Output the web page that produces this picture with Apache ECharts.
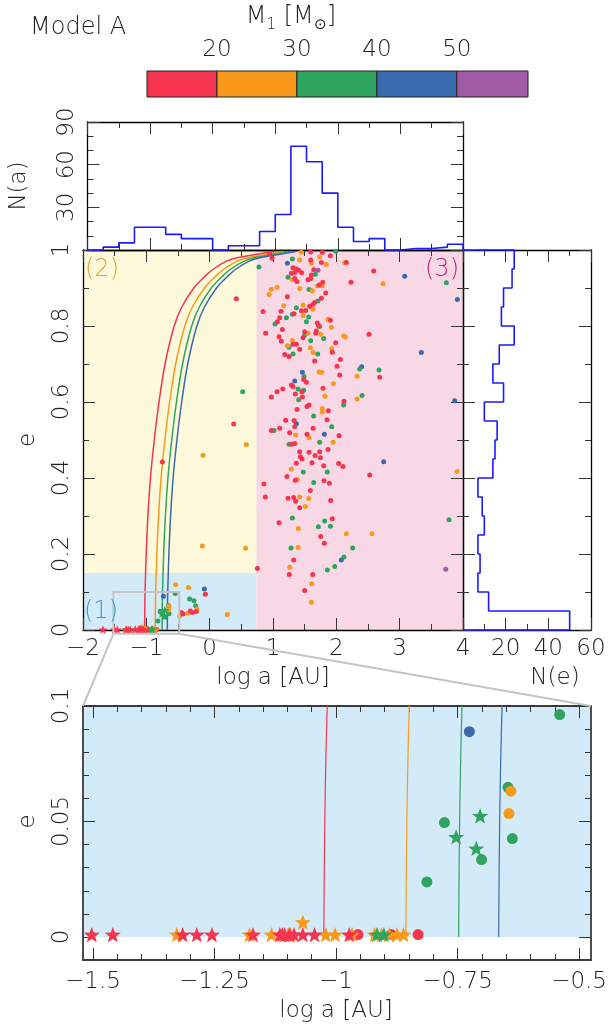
<!DOCTYPE html>
<html>
<head>
<meta charset="utf-8">
<script src="https://cdn.jsdelivr.net/npm/echarts@6/dist/echarts.min.js"></script>
<style>
  html, body { margin: 0; padding: 0; background: #fff; }
  #chart { width: 610px; height: 1030px; }
</style>
</head>
<body>
<div id="chart"></div>
<script>
// ---- data ----
const massEdges = [11.25, 20, 30, 40, 50, 58.9];
const massTicks = [20, 30, 40, 50];

// regions (1), (2), (3): [logA0, e0, logA1, e1]
const regionBounds = [[-2, 0, 0.74, 0.15], [-2, 0.15, 0.74, 1], [0.74, 0, 4, 1]];

// zoom window
const zoomLogA = [-1.52, -0.48];
const zoomE = [-0.01, 0.1];

// N(a): bins of log a
const aEdges = [-2, -1.75, -1.5, -1.25, -1, -0.75, -0.5, -0.25, 0, 0.25, 0.5, 0.75, 1,
  1.25, 1.5, 1.75, 2, 2.25, 2.5, 2.75, 3, 3.25, 3.5, 3.75, 4];
const aCounts = [0, 2, 5, 16, 16, 11, 8, 8, 0, 3, 3, 13, 25, 73, 62, 40, 16, 6, 8, 0, 1, 1, 2, 4];

// N(e): bins of e
const eEdges = [0, 0.05, 0.1, 0.15, 0.2, 0.25, 0.3, 0.35, 0.4, 0.45, 0.5, 0.55, 0.6, 0.65,
  0.7, 0.75, 0.8, 0.85, 0.9, 0.95, 1];
const eCounts = [50, 12, 7, 8, 7, 10, 9, 7, 14, 15, 16, 10, 19, 14, 17, 24, 18, 19, 23, 24];

// limit curves, one per mass (log a at each e)
const curveE = [0, 0.05, 0.1, 0.2, 0.3, 0.4, 0.5, 0.6, 0.7, 0.8, 0.85, 0.9, 0.93, 0.95, 0.97, 0.98, 0.99, 0.996];
const curveRed    = [-1.027, -1.025, -1.020, -1.002, -0.975, -0.935, -0.875, -0.800, -0.705, -0.560, -0.440, -0.250, -0.080, 0.060, 0.260, 0.450, 0.800, 1.000];
const curveOrange = [-0.859, -0.857, -0.852, -0.834, -0.807, -0.767, -0.707, -0.632, -0.537, -0.392, -0.272, -0.082, 0.088, 0.228, 0.428, 0.618, 0.968, 1.168];
const curveGreen  = [-0.751, -0.749, -0.744, -0.726, -0.699, -0.659, -0.599, -0.524, -0.429, -0.284, -0.164, 0.026, 0.196, 0.336, 0.536, 0.726, 1.076, 1.276];
const curveBlue   = [-0.669, -0.667, -0.662, -0.644, -0.617, -0.577, -0.517, -0.442, -0.347, -0.202, -0.082, 0.108, 0.278, 0.418, 0.618, 0.808, 1.158, 1.358];

// systems [log a, e]
const redDots = [
  [1.595,0.995],[1.779,0.994],[0.948,0.991],[0.985,0.978],[1.595,0.974],[1.906,0.985],[1.764,0.967],[2.158,0.967],
  [1.316,0.953],[1.369,0.950],[1.406,0.947],[1.343,0.941],[1.290,0.939],[1.453,0.940],[1.643,0.948],[1.606,0.934],
  [1.595,0.925],[1.553,0.922],[1.343,0.925],[1.379,0.917],[2.590,0.945],[2.232,0.915],[1.785,0.915],[1.732,0.908],
  [1.832,0.887],[1.227,0.877],[1.764,0.873],[1.658,0.862],[1.632,0.857],[1.579,0.852],[1.516,0.841],[0.843,0.838],
  [1.127,0.839],[1.448,0.840],[1.332,0.832],[1.106,0.822],[1.906,0.815],[1.069,0.811],[1.700,0.808],[1.721,0.801],
  [1.148,0.791],[1.500,0.785],[1.685,0.787],[1.674,0.781],[0.885,0.781],[1.474,0.769],[1.095,0.772],[1.132,0.760],
  [2.516,0.778],[1.990,0.756],[1.316,0.752],[1.369,0.752],[1.421,0.739],[1.937,0.731],[1.185,0.725],[1.253,0.720],
  [2.064,0.712],[1.658,0.708],[2.011,0.694],[2.685,0.665],[2.053,0.671],[1.485,0.659],[1.527,0.652],[1.290,0.645],
  [1.316,0.641],[1.064,0.627],[1.153,0.634],[1.790,0.636],[1.458,0.627],[1.353,0.621],[1.464,0.613],[0.974,0.613],
  [2.121,0.602],[1.569,0.592],[1.537,0.588],[1.379,0.580],[1.874,0.577],[1.200,0.552],[1.332,0.551],[1.853,0.553],
  [1.343,0.535],[0.974,0.525],[1.106,0.531],[1.632,0.531],[1.264,0.519],[1.537,0.515],[2.043,0.511],[1.343,0.491],
  [1.290,0.489],[1.421,0.469],[1.569,0.468],[1.737,0.469],[1.869,0.475],[1.664,0.459],[1.748,0.453],[1.432,0.456],
  [1.458,0.450],[1.369,0.439],[1.616,0.440],[2.037,0.438],[2.106,0.430],[1.800,0.432],[2.527,0.408],[1.221,0.404],
  [1.353,0.394],[1.806,0.393],[1.890,0.386],[0.858,0.384],[1.590,0.367],[0.879,0.350],[1.237,0.347],[1.327,0.349],
  [1.358,0.339],[1.911,0.341],[1.421,0.322],[1.095,0.282],[1.937,0.293],[1.753,0.246],[1.811,0.228],[1.327,0.184],
  [1.258,0.146],[1.627,0.146],[0.753,0.162],[1.500,0.104],
  [0.421,0.872],[0.379,0.542],[-0.747,0.442],[-0.068,0.094],[-0.210,0.049],[-0.273,0.046],[-0.305,0.050],
  [-0.421,0.042],[-0.447,0.046],[-0.957,0.001],[-0.889,0.001],[-0.834,0.001]
];
const orangeDots = [
  [1.448,0.994],[1.421,0.974],[1.737,0.982],[1.843,0.962],[1.606,0.965],[2.132,0.967],[1.306,0.922],[2.737,0.911],
  [1.779,0.906],[1.700,0.906],[0.974,0.897],[1.064,0.902],[0.937,0.883],[1.421,0.899],[1.621,0.893],[1.474,0.855],
  [1.169,0.853],[1.632,0.845],[1.474,0.827],[1.869,0.818],[1.921,0.797],[1.553,0.781],[1.753,0.778],[2.116,0.774],
  [2.143,0.771],[1.306,0.762],[1.227,0.748],[1.590,0.743],[1.927,0.741],[1.632,0.730],[2.327,0.668],[1.727,0.679],
  [1.769,0.678],[1.953,0.648],[1.821,0.615],[2.327,0.608],[1.779,0.583],[1.779,0.574],[1.358,0.513],[1.569,0.506],
  [1.948,0.494],[1.290,0.423],[1.385,0.396],[3.906,0.417],[1.421,0.350],[1.564,0.346],[1.511,0.325],[1.400,0.267],
  [2.158,0.253],[2.563,0.253],[1.395,0.217],[1.264,0.165],[1.611,0.122],[1.606,0.073],
  [-0.105,0.460],[0.579,0.488],[-0.116,0.221],[0.568,0.215],[-0.537,0.119],[-0.336,0.112],[-0.200,0.055],
  [-0.342,0.044],[-0.474,0.037],[0.279,0.041],[-0.644,0.0631],[-0.648,0.0534]
];
const greenDots = [
  [1.990,0.997],[1.306,0.976],[0.779,0.955],[1.669,0.936],[1.237,0.928],[3.737,0.914],[1.569,0.896],[1.711,0.866],
  [1.369,0.848],[1.306,0.831],[1.564,0.824],[1.211,0.822],[1.032,0.805],[1.527,0.811],[1.737,0.799],[1.500,0.776],
  [1.800,0.767],[1.595,0.761],[1.253,0.744],[1.706,0.726],[1.316,0.726],[2.369,0.687],[2.674,0.684],[1.490,0.667],
  [1.395,0.634],[1.485,0.631],[1.406,0.606],[2.406,0.617],[2.116,0.592],[1.642,0.563],[1.016,0.525],[1.927,0.535],
  [1.737,0.494],[1.253,0.489],[1.479,0.416],[1.858,0.416],[1.643,0.388],[1.306,0.295],[1.816,0.287],[1.716,0.272],
  [1.906,0.273],[3.779,0.290],[1.285,0.216],[2.258,0.216],[2.121,0.192],[1.974,0.167],[1.858,0.158],
  [0.521,0.627],[-0.316,0.0816],[-0.248,0.077],[-0.221,0.064],
  [-0.544,0.0963],[-0.650,0.0648],[-0.780,0.0495],[-0.641,0.0426],[-0.704,0.0335],[-0.816,0.0238]
];
const blueDots = [
  [1.227,0.965],[3.079,0.931],[3.911,0.870],[3.342,0.730],[2.400,0.693],[1.464,0.678],[1.343,0.655],[3.869,0.603],
  [1.369,0.543],[1.811,0.515],[2.748,0.443],[2.079,0.184],[-0.084,0.108],[-0.729,0.0889]
];
const purpleDots = [[1.711,0.947],[3.727,0.160]];

const redStars = [
  [-1.685,0.001],[-1.502,0.001],[-1.459,0.001],[-1.316,0.001],[-1.287,0.001],[-1.256,0.001],[-1.172,0.001],
  [-1.117,0.001],[-1.112,0.001],[-1.107,0.001],[-1.097,0.001],[-1.088,0.001],[-1.070,0.001],[-1.046,0.001],[-0.975,0.001]
];
const orangeStars = [
  [-1.328,0.001],[-1.179,0.001],[-1.134,0.001],[-1.100,0.001],[-1.095,0.001],[-1.070,0.0064],[-1.023,0.001],
  [-1.004,0.001],[-0.969,0.001],[-0.923,0.001],[-0.909,0.001],[-0.893,0.001],[-0.877,0.001],[-0.864,0.001]
];
const greenStars = [[-0.707,0.0524],[-0.756,0.0433],[-0.715,0.0383],[-0.918,0.001],[-0.904,0.001]];

// ---- style ----
const FONT = 'DejaVu Sans';
const TXT = '#222';
const massColors = ['#f5344f', '#f8991c', '#2fa45f', '#396aae', '#a25ba7'];
const regionColors = ['#d3eaf8', '#fef9da', '#f9d8e6'];
const histColor = '#1a1aff';
const frame = { color: '#000', width: 1.3 };
const zframe = { color: '#3a3a3a', width: 1.8 };
const tick = { color: '#333', width: 1 };
const lbl = { color: TXT, fontFamily: FONT, fontSize: 23, fontWeight: 200 };
const STAR = 'path://M0,-10 L2.469,-3.398 L9.511,-3.09 L3.994,1.298 L5.878,8.09 L0,4.2 L-5.878,8.09 L-3.994,1.298 L-9.511,-3.09 L-2.469,-3.398 Z';

const minus = v => String(v).replace('-', '\u2212');
const minor = n => ({ show: true, splitNumber: n, length: 6, lineStyle: tick });

function ax(o) {
  return Object.assign({
    type: 'value',
    splitLine: { show: false },
    axisLine: { show: true, onZero: false, lineStyle: frame },
    axisTick: { show: true, inside: true, length: 12, lineStyle: tick },
    minorTick: { show: false },
    axisLabel: { show: false }
  }, o);
}

function rectSeries(rects, colors, xi, yi, z, stroke) {
  return {
    type: 'custom', xAxisIndex: xi, yAxisIndex: yi, z: z, silent: true,
    encode: { x: [0, 2], y: [1, 3] },
    data: rects.map((r, i) => ({ value: r, itemStyle: { color: colors[i] } })),
    renderItem(params, api) {
      const p0 = api.coord([api.value(0), api.value(1)]);
      const p1 = api.coord([api.value(2), api.value(3)]);
      return {
        type: 'rect',
        shape: { x: Math.min(p0[0], p1[0]), y: Math.min(p0[1], p1[1]),
                 width: Math.abs(p1[0] - p0[0]), height: Math.abs(p1[1] - p0[1]) },
        style: { fill: api.visual('color'), stroke: stroke || null, lineWidth: 1 }
      };
    }
  };
}

function histTop(edges, counts) {
  const pts = [[edges[0], 0]];
  counts.forEach((c, i) => { pts.push([edges[i], c]); pts.push([edges[i + 1], c]); });
  pts.push([edges[edges.length - 1], 0]);
  return pts;
}
function histSide(edges, counts) {
  const pts = [[0, edges[0]]];
  counts.forEach((c, i) => { pts.push([c, edges[i]]); pts.push([c, edges[i + 1]]); });
  pts.push([0, edges[edges.length - 1]]);
  return pts;
}

const curves = [curveRed, curveOrange, curveGreen, curveBlue];
function curveSeries(xi, w) {
  return curves.map((c, k) => ({
    type: 'line', xAxisIndex: xi, yAxisIndex: xi, z: 2, silent: true,
    data: c.map((a, i) => [a, curveE[i]]),
    smooth: 0.3, showSymbol: false,
    lineStyle: { color: massColors[k], width: w }
  }));
}

const dotGroups = [[blueDots, 3], [purpleDots, 4], [greenDots, 2], [orangeDots, 1], [redDots, 0]];
const starGroups = [[orangeStars, 1], [redStars, 0], [greenStars, 2]];
function pointSeries(xi, dotSize, starSize) {
  const s = [];
  dotGroups.forEach(([d, k]) => s.push({
    type: 'scatter', xAxisIndex: xi, yAxisIndex: xi, z: 3, silent: true,
    data: d, symbol: 'circle', symbolSize: dotSize,
    itemStyle: { color: massColors[k], opacity: 1 }
  }));
  starGroups.forEach(([d, k]) => s.push({
    type: 'scatter', xAxisIndex: xi, yAxisIndex: xi, z: 4, silent: true,
    data: d, symbol: STAR, symbolSize: starSize, symbolKeepAspect: true,
    itemStyle: { color: massColors[k], opacity: 1 }
  }));
  return s;
}

const colorbarRects = massColors.map((c, i) => [massEdges[i], 0, massEdges[i + 1], 1]);

const option = {
  animation: false,
  backgroundColor: '#fff',
  grid: [
    { left: 83, top: 250, width: 380, height: 380 },   // 0 main
    { left: 83, top: 122, width: 380, height: 128 },   // 1 N(a)
    { left: 463, top: 250, width: 128, height: 380 },  // 2 N(e)
    { left: 83, top: 706, width: 508, height: 254 },   // 3 zoom data
    { left: 93, top: 706, width: 488.5, height: 254 }, // 4 zoom x ticks
    { left: 83, top: 706, width: 508, height: 231 },   // 5 zoom y ticks
    { left: 147, top: 71, width: 381, height: 26 }     // 6 colour bar
  ],
  xAxis: [
    ax({ gridIndex: 0, min: -2, max: 4, interval: 1, position: 'bottom', minorTick: minor(2),
         axisLabel: Object.assign({ show: true, margin: 8, formatter: minus }, lbl),
         name: 'log a [AU]', nameLocation: 'middle', nameGap: 48,
         nameTextStyle: Object.assign({ verticalAlign: 'middle' }, lbl) }),
    ax({ gridIndex: 0, min: -2, max: 4, interval: 1, position: 'top', minorTick: minor(2) }),
    ax({ gridIndex: 1, min: -2, max: 4, interval: 1, position: 'bottom', minorTick: minor(2) }),
    ax({ gridIndex: 1, min: -2, max: 4, interval: 1, position: 'top', minorTick: minor(2) }),
    ax({ gridIndex: 2, min: 0, max: 60, interval: 20, position: 'bottom', minorTick: minor(2),
         axisLabel: Object.assign({ show: true, margin: 8, formatter: v => (v === 0 ? '' : v) }, lbl) }),
    ax({ gridIndex: 2, min: 0, max: 60, interval: 20, position: 'top', minorTick: minor(2) }),
    ax({ gridIndex: 3, min: zoomLogA[0], max: zoomLogA[1], position: 'bottom',
         axisTick: { show: false }, axisLine: { show: true, onZero: false, lineStyle: zframe } }),
    ax({ gridIndex: 3, min: zoomLogA[0], max: zoomLogA[1], position: 'top',
         axisTick: { show: false }, axisLine: { show: true, onZero: false, lineStyle: zframe } }),
    ax({ gridIndex: 4, min: -1.5, max: -0.5, interval: 0.25, position: 'bottom',
         axisLine: { show: false }, minorTick: minor(5),
         axisLabel: Object.assign({ show: true, margin: 11, formatter: minus }, lbl),
         name: 'log a [AU]', nameLocation: 'middle', nameGap: 51,
         nameTextStyle: Object.assign({ verticalAlign: 'middle' }, lbl) }),
    ax({ gridIndex: 4, min: -1.5, max: -0.5, interval: 0.25, position: 'top',
         axisLine: { show: false }, minorTick: minor(5) }),
    { gridIndex: 5, type: 'value', show: false, min: 0, max: 1 },
    { gridIndex: 6, type: 'value', min: massEdges[0], max: massEdges[massEdges.length - 1], position: 'top',
      splitLine: { show: false }, axisLine: { show: false }, axisTick: { show: false },
      axisLabel: Object.assign({ margin: 9, customValues: massTicks }, lbl) }
  ],
  yAxis: [
    ax({ gridIndex: 0, min: 0, max: 1, interval: 0.2, position: 'left', minorTick: minor(2),
         axisLabel: Object.assign({ show: true, rotate: 90, margin: 9 }, lbl),
         name: 'e', nameLocation: 'middle', nameGap: 55, nameRotate: 90,
         nameTextStyle: Object.assign({ verticalAlign: 'middle' }, lbl) }),
    ax({ gridIndex: 0, min: 0, max: 1, interval: 0.2, position: 'right', minorTick: minor(2) }),
    ax({ gridIndex: 1, min: 0, max: 90, interval: 30, position: 'left', minorTick: minor(3),
         axisLabel: Object.assign({ show: true, rotate: 90, margin: 9, formatter: v => (v === 0 ? '' : v) }, lbl),
         name: 'N(a)', nameLocation: 'middle', nameGap: 68, nameRotate: 90,
         nameTextStyle: Object.assign({ verticalAlign: 'middle' }, lbl) }),
    ax({ gridIndex: 1, min: 0, max: 90, interval: 30, position: 'right', minorTick: minor(3) }),
    ax({ gridIndex: 2, min: 0, max: 1, interval: 0.2, position: 'left', minorTick: minor(2) }),
    ax({ gridIndex: 2, min: 0, max: 1, interval: 0.2, position: 'right', minorTick: minor(2) }),
    ax({ gridIndex: 3, min: zoomE[0], max: zoomE[1], position: 'left',
         axisTick: { show: false }, axisLine: { show: true, onZero: false, lineStyle: zframe } }),
    ax({ gridIndex: 3, min: zoomE[0], max: zoomE[1], position: 'right',
         axisTick: { show: false }, axisLine: { show: true, onZero: false, lineStyle: zframe } }),
    { gridIndex: 4, type: 'value', show: false, min: 0, max: 1 },
    ax({ gridIndex: 5, min: 0, max: 0.1, interval: 0.05, position: 'left',
         axisLine: { show: false }, minorTick: minor(5),
         axisLabel: Object.assign({ show: true, rotate: 90, margin: 9 }, lbl),
         name: 'e', nameLocation: 'middle', nameGap: 55, nameRotate: 90,
         nameTextStyle: Object.assign({ verticalAlign: 'middle' }, lbl) }),
    ax({ gridIndex: 5, min: 0, max: 0.1, interval: 0.05, position: 'right',
         axisLine: { show: false }, minorTick: minor(5) }),
    { gridIndex: 6, type: 'value', show: false, min: 0, max: 1 }
  ],
  series: [
    rectSeries(regionBounds, regionColors, 0, 0, -1),
    rectSeries([[zoomLogA[0], 0, zoomLogA[1], zoomE[1]]], [regionColors[0]], 6, 6, -1),
    rectSeries(colorbarRects, massColors, 11, 11, 1, '#222'),
    { type: 'line', xAxisIndex: 2, yAxisIndex: 2, z: 3, clip: false, silent: true, showSymbol: false,
      data: histTop(aEdges, aCounts), lineStyle: { color: histColor, width: 1.6 } },
    { type: 'line', xAxisIndex: 4, yAxisIndex: 4, z: 3, clip: false, silent: true, showSymbol: false,
      data: histSide(eEdges, eCounts), lineStyle: { color: histColor, width: 1.6 } }
  ]
    .concat(curveSeries(0, 1.5))
    .concat(curveSeries(6, 1.2))
    .concat(pointSeries(0, 5, 9))
    .concat(pointSeries(6, 11, 16))
};

const chart = echarts.init(document.getElementById('chart'), null, { renderer: 'canvas' });
chart.setOption(option);

// zoom box and connector lines, placed through the axes
const px = (i, p) => chart.convertToPixel({ xAxisIndex: i, yAxisIndex: i }, p);
const bTL = px(0, [zoomLogA[0], zoomE[1]]);
const bBR = px(0, [zoomLogA[1], zoomE[0]]);
const zTL = px(6, [zoomLogA[0], zoomE[1]]);
const zTR = px(6, [zoomLogA[1], zoomE[1]]);
const gray = { stroke: '#c4c4c4', lineWidth: 2, fill: null };
const txt = (x, y, text, extra) => ({
  type: 'text', x: x, y: y, z: 10,
  style: Object.assign({ text: text, fill: TXT, fontFamily: FONT, fontSize: 24, fontWeight: 200,
                         align: 'left', verticalAlign: 'middle' }, extra || {})
});

chart.setOption({
  graphic: { elements: [
    { type: 'rect', z: 5, shape: { x: bTL[0], y: bTL[1], width: bBR[0] - bTL[0], height: bBR[1] - bTL[1] }, style: gray },
    { type: 'line', z: 5, shape: { x1: bTL[0], y1: bBR[1], x2: zTL[0], y2: zTL[1] }, style: gray },
    { type: 'line', z: 5, shape: { x1: bBR[0], y1: bBR[1], x2: zTR[0], y2: zTR[1] }, style: gray },
    txt(30, 28, 'Model A'),
    txt(291, 17, '{a|M}{b|1}{a| [M}{b|\u2299}{a|]}', {
      align: 'center',
      rich: {
        a: { fontFamily: FONT, fontSize: 24, fontWeight: 200, fill: TXT, lineHeight: 32, verticalAlign: 'middle' },
        b: { fontFamily: FONT, fontSize: 15, fontWeight: 200, fill: TXT, lineHeight: 15, verticalAlign: 'bottom' }
      }
    }),
    txt(555, 678, 'N(e)', { align: 'center', fontSize: 23 }),
    txt(85, 270, '(2)', { fill: '#e0a33a' }),
    txt(459, 270, '(3)', { fill: '#c8207e', align: 'right' }),
    txt(84, 612, '(1)', { fill: '#2a9fd8' })
  ] }
});
</script>
</body>
</html>
